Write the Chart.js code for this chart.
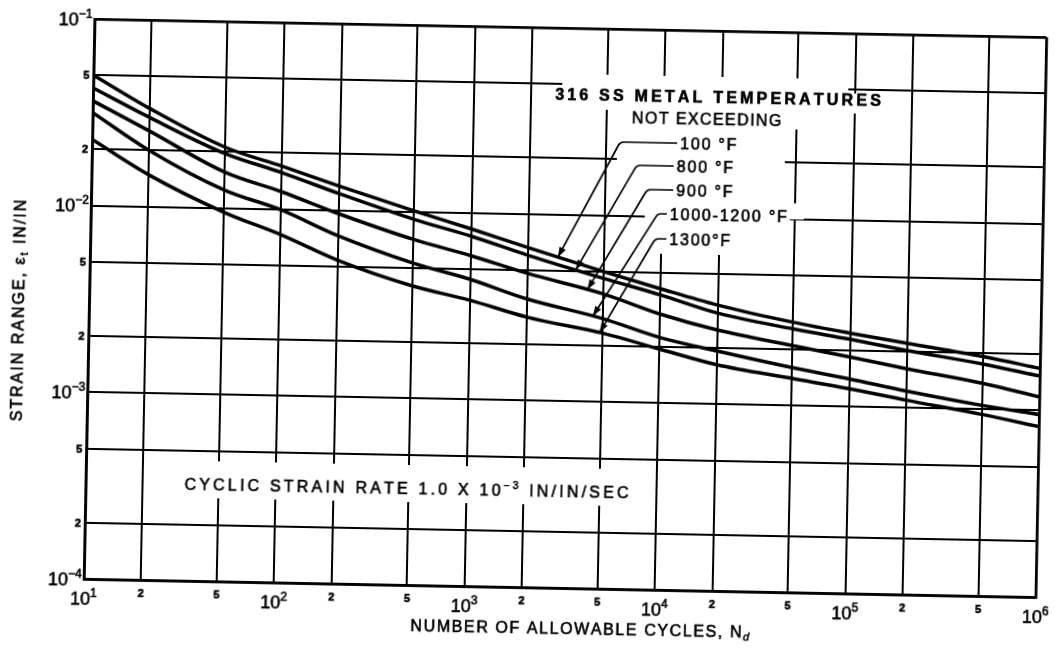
<!DOCTYPE html>
<html>
<head>
<meta charset="utf-8">
<title>316 SS strain range vs allowable cycles</title>
<script src="https://cdn.jsdelivr.net/npm/chart.js@4.4.1/dist/chart.umd.min.js"></script>
<style>
  html, body { margin: 0; padding: 0; background: #fff; overflow: hidden; }
  #frame { position: relative; width: 1055px; height: 648px; overflow: hidden; }
  /* the printed sheet sits slightly skewed on the page */
  #fatigueChart { transform: rotate(1.1deg); transform-origin: 565px 308px; }
</style>
</head>
<body>
<div id="frame"><canvas id="fatigueChart" width="1055" height="648"></canvas></div>
<script>
// Allowable cycles (x) and total strain range in/in (y), one curve per metal temperature
const cycles = [10, 20, 50, 100, 200, 500, 1e3, 2e3, 5e3, 1e4, 2e4, 5e4, 1e5, 2e5, 5e5, 1e6];
const strain100F = [0.0500, 0.0335, 0.0212, 0.0170, 0.0135, 0.0101, 0.0082, 0.0066, 0.0050, 0.0041, 0.0034, 0.0028, 0.00248, 0.00222, 0.00192, 0.00168];
const strain800F = [0.0427, 0.0300, 0.0196, 0.0157, 0.0123, 0.0091, 0.0075, 0.0060, 0.0046, 0.0038, 0.00308, 0.00258, 0.00230, 0.00203, 0.00175, 0.00153];
const strain900F = [0.0364, 0.0254, 0.0156, 0.0124, 0.0096, 0.0071, 0.0059, 0.0048, 0.0038, 0.0030, 0.0025, 0.00210, 0.00185, 0.00162, 0.00138, 0.00118];
const strain1000to1200F = [0.0315, 0.0200, 0.0125, 0.0099, 0.0073, 0.0053, 0.0044, 0.0035, 0.0028, 0.00225, 0.00193, 0.00160, 0.00141, 0.00123, 0.00105, 0.00095];
const strain1300F = [0.0226, 0.0148, 0.0095, 0.0073, 0.0054, 0.0040, 0.0034, 0.0028, 0.00234, 0.00195, 0.00163, 0.00140, 0.00125, 0.00110, 0.00094, 0.00082];
const seriesLabels = ['100 °F', '800 °F', '900 °F', '1000-1200 °F', '1300°F'];

// where each label's pointer lands on its curve (cycles)
const pointerCycles = [2870, 3570, 4130, 4440, 4830];

const cycleTicks = [10, 20, 50, 100, 200, 500, 1e3, 2e3, 5e3, 1e4, 2e4, 5e4, 1e5, 2e5, 5e5, 1e6];
const cycleTickLabels = ['10^1', '2', '5', '10^2', '2', '5', '10^3', '2', '5', '10^4', '2', '5', '10^5', '2', '5', '10^6'];
const strainTicks = [1e-4, 2e-4, 5e-4, 1e-3, 2e-3, 5e-3, 1e-2, 2e-2, 5e-2, 1e-1];
const strainTickLabels = ['10^-4', '2', '5', '10^-3', '2', '5', '10^-2', '2', '5', '10^-1'];

const INK = '#000';
const FACE = '"Liberation Sans", Arial, Helvetica, sans-serif';
const allSeries = [strain100F, strain800F, strain900F, strain1000to1200F, strain1300F];

const fontOf = r => `${r.italic ? 'italic ' : ''}${r.weight || 'normal'} ${r.size}px ${FACE}`;

// width of a list of text runs drawn char by char with extra spacing
function runsWidth(ctx, runs, spacing) {
    let w = 0, n = 0;
    runs.forEach(r => {
        ctx.font = fontOf(r);
        for (const ch of r.t) { w += ctx.measureText(ch).width; n++; }
    });
    return w + spacing * Math.max(0, n - 1);
}

// lettering is filled and lightly stroked so it reads like drafted type
function drawRuns(ctx, runs, x, y, align, spacing) {
    const w = runsWidth(ctx, runs, spacing);
    let cx = align === 'center' ? x - w / 2 : align === 'right' ? x - w : x;
    ctx.textAlign = 'left';
    ctx.textBaseline = 'alphabetic';
    ctx.strokeStyle = INK;
    ctx.lineWidth = 0.6;
    runs.forEach(r => {
        ctx.font = fontOf(r);
        for (const ch of r.t) {
            ctx.fillText(ch, cx, y + (r.dy || 0));
            ctx.strokeText(ch, cx, y + (r.dy || 0));
            cx += ctx.measureText(ch).width + spacing;
        }
    });
}

// '10^-2' -> base plus raised exponent, plain digits stay small and bold
function tickRuns(label) {
    if (label.includes('^')) {
        const [base, exp] = label.split('^');
        return [{t: base, size: 18}, {t: exp.replace('-', '\u2212'), size: 12, dy: -8}];
    }
    return [{t: label, size: 11, weight: 'bold'}];
}

// log-log interpolation along one curve
function strainAt(vals, n) {
    for (let i = 0; i < cycles.length - 1; i++) {
        if (n >= cycles[i] && n <= cycles[i + 1]) {
            const f = Math.log(n / cycles[i]) / Math.log(cycles[i + 1] / cycles[i]);
            return Math.exp(Math.log(vals[i]) + f * Math.log(vals[i + 1] / vals[i]));
        }
    }
    return vals[vals.length - 1];
}

const notesPlugin = {
    id: 'temperatureNotes',
    beforeDatasetsDraw(chart) {
        const ctx = chart.ctx;
        ctx.save();
        // grid is left blank behind the lettering
        const blanks = [
            [558, 74, 844, 109], [844, 88, 884, 108], [611, 109, 797, 125],
            [614, 122, 782, 197], [643, 197, 788, 252], [768, 199, 802, 215],
            [176, 468, 645, 505]
        ];
        ctx.fillStyle = '#fff';
        blanks.forEach(([x0, y0, x1, y1]) => ctx.fillRect(x0, y0, x1 - x0, y1 - y0));

        ctx.fillStyle = INK;
        drawRuns(ctx, [{t: '316 SS METAL TEMPERATURES', size: 16, weight: 'bold'}], 714, 100, 'center', 3.2);
        drawRuns(ctx, [{t: 'NOT EXCEEDING', size: 16}], 703, 122, 'center', 1.4);
        const spots = [[677, 141], [674, 164], [674, 188], [668, 212], [668, 237]];
        seriesLabels.forEach((lbl, i) => {
            drawRuns(ctx, [{t: lbl, size: 16}], spots[i][0], spots[i][1] + 6, 'left', 1.8);
        });
        drawRuns(ctx, [
            {t: 'CYCLIC STRAIN RATE 1.0 X 10', size: 16},
            {t: '\u22123', size: 10, dy: -7},
            {t: ' IN/IN/SEC', size: 16}
        ], 410, 497, 'center', 3.2);
        ctx.restore();
    },
    afterDatasetsDraw(chart) {
        const ctx = chart.ctx;
        const xs = chart.scales.x, ys = chart.scales.y;
        const starts = [[674, 141, 617], [671, 164, 634], [671, 188, 645], [665, 212, 656], [665, 237, 654]];
        ctx.save();
        ctx.strokeStyle = INK;
        ctx.fillStyle = INK;
        ctx.lineWidth = 1.7;
        pointerCycles.forEach((n, i) => {
            const tx = xs.getPixelForValue(n);
            const ty = ys.getPixelForValue(strainAt(allSeries[i], n));
            const [sx, sy, bx] = starts[i];
            ctx.beginPath();
            ctx.moveTo(sx, sy);
            ctx.arcTo(bx, sy, tx, ty, 6);
            ctx.lineTo(tx, ty);
            ctx.stroke();
            // arrowhead pointing at the curve
            const a = Math.atan2(ty - sy, tx - bx);
            ctx.beginPath();
            ctx.moveTo(tx, ty);
            ctx.lineTo(tx - 10 * Math.cos(a) + 3.5 * Math.sin(a), ty - 10 * Math.sin(a) - 3.5 * Math.cos(a));
            ctx.lineTo(tx - 10 * Math.cos(a) - 3.5 * Math.sin(a), ty - 10 * Math.sin(a) + 3.5 * Math.cos(a));
            ctx.closePath();
            ctx.fill();
        });
        ctx.restore();
    },
    afterDraw(chart) {
        const ctx = chart.ctx;
        const {left, bottom} = chart.chartArea;
        const xs = chart.scales.x, ys = chart.scales.y;
        ctx.save();
        ctx.fillStyle = INK;

        cycleTicks.forEach((v, i) => {
            const px = xs.getPixelForValue(v);
            const big = cycleTickLabels[i].includes('^');
            drawRuns(ctx, tickRuns(cycleTickLabels[i]), px, bottom + (big ? 26 : 17), 'center', 0);
        });
        strainTicks.forEach((v, i) => {
            const py = ys.getPixelForValue(v);
            const big = strainTickLabels[i].includes('^');
            drawRuns(ctx, tickRuns(strainTickLabels[i]), left - (big ? 2 : 4), py + (big ? 6.5 : 4), 'right', 0);
        });

        // axis titles
        drawRuns(ctx, [
            {t: 'NUMBER OF ALLOWABLE CYCLES, N', size: 16},
            {t: 'd', size: 11, italic: true, dy: 3}
        ], 586, 634, 'center', 1.6);

        ctx.translate(18, 321);
        ctx.rotate(-Math.PI / 2);
        drawRuns(ctx, [
            {t: 'STRAIN RANGE, \u03B5', size: 16},
            {t: 't', size: 10, dy: 3},
            {t: ' IN/IN', size: 16}
        ], 0, 5.8, 'center', 2.0);
        ctx.restore();
    }
};

const edgeWidth = (count) => (c) => (c.index === 0 || c.index === count - 1) ? 2.8 : 2;

const fatigueChart = new Chart(document.getElementById('fatigueChart').getContext('2d'), {
    type: 'line',
    data: {
        datasets: allSeries.map((vals, i) => ({
            label: seriesLabels[i],
            data: cycles.map((n, j) => ({x: n, y: vals[j]})),
            borderColor: INK,
            borderWidth: 3.5,
            pointRadius: 0,
            cubicInterpolationMode: 'monotone',
            fill: false
        }))
    },
    options: {
        responsive: false,
        animation: false,
        events: [],
        layout: { padding: { top: 28, right: 14, left: 0, bottom: 0 } },
        plugins: {
            legend: { display: false },
            tooltip: { enabled: false }
        },
        scales: {
            x: {
                type: 'logarithmic',
                min: 10,
                max: 1e6,
                afterBuildTicks: (s) => { s.ticks = cycleTicks.map(v => ({value: v})); },
                afterFit: (s) => { s.height = 60; },
                ticks: { display: false },
                grid: { color: INK, lineWidth: edgeWidth(cycleTicks.length), drawTicks: false },
                border: { display: true, color: INK, width: 2.8 }
            },
            y: {
                type: 'logarithmic',
                min: 1e-4,
                max: 1e-1,
                afterBuildTicks: (s) => { s.ticks = strainTicks.map(v => ({value: v})); },
                afterFit: (s) => { s.width = 89; },
                ticks: { display: false },
                grid: { color: INK, lineWidth: edgeWidth(strainTicks.length), drawTicks: false },
                border: { display: true, color: INK, width: 2.8 }
            }
        }
    },
    plugins: [notesPlugin]
});
</script>
</body>
</html>
